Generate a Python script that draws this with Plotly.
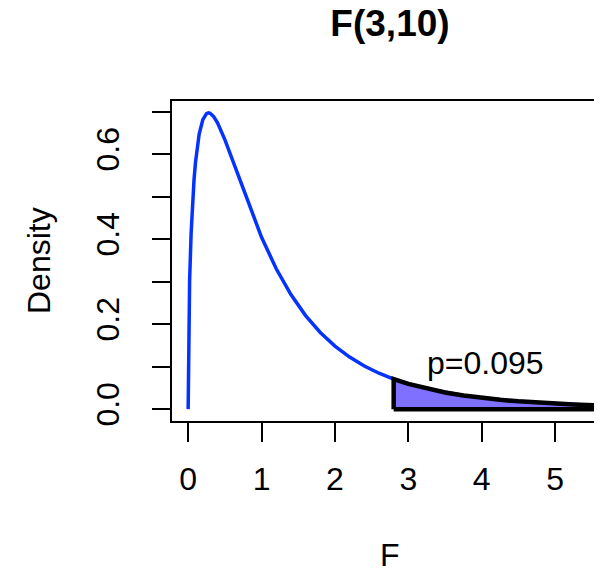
"""F(3,10) density with the upper tail shaded."""

import plotly.graph_objects as go

# density curve
f_x = [0, 0.005, 0.01, 0.02, 0.04, 0.06, 0.08, 0.1, 0.15, 0.2, 0.25, 0.2778,
       0.3, 0.35, 0.4, 0.5, 0.6, 0.7, 0.8, 0.9, 1.0, 1.2, 1.4, 1.6, 1.8,
       2.0, 2.2, 2.4, 2.6, 2.8, 3.0, 3.25, 3.5, 3.75, 4.0, 4.25, 4.5, 4.75,
       5.0, 5.25, 5.5]
f_y = [0, 0.1557, 0.2181, 0.3025, 0.4116, 0.4851, 0.5392, 0.5804, 0.6471,
       0.6810, 0.6950, 0.6967, 0.6957, 0.6876, 0.6734, 0.6340, 0.5875,
       0.5390, 0.4915, 0.4463, 0.4042, 0.3302, 0.2694, 0.2200, 0.1803,
       0.1482, 0.1224, 0.1015, 0.0845, 0.0707, 0.0594, 0.0481, 0.0392,
       0.0321, 0.0265, 0.0219, 0.0183, 0.0153, 0.0129, 0.0109, 0.0093]

f_obs = 2.8
p_label = "p=0.095"
title_text = "F(3,10)"
x_title = "F"
y_title = "Density"

x_ticks = [0, 1, 2, 3, 4, 5]
y_ticks = [0.0, 0.1, 0.2, 0.3, 0.4, 0.5, 0.6, 0.7]
y_labels = ["0.0", "", "0.2", "", "0.4", "", "0.6", ""]

FONT = "Liberation Sans, Arial, Helvetica, sans-serif"

# tail polygon: up the left edge, along the curve, down and back
tail_x = [x for x in f_x if x >= f_obs]
tail_y = [y for x, y in zip(f_x, f_y) if x >= f_obs]
poly_x = [tail_x[0]] + tail_x + [tail_x[-1], tail_x[0]]
poly_y = [0] + tail_y + [0, 0]

fig = go.Figure()
fig.add_trace(go.Scatter(
    x=f_x, y=f_y, mode="lines",
    line=dict(color="#0433FF", width=3.5),
    hoverinfo="skip",
))
fig.add_trace(go.Scatter(
    x=poly_x, y=poly_y, mode="lines", fill="toself",
    fillcolor="#8070FF",
    line=dict(color="black", width=4.5),
    hoverinfo="skip",
))

text_font = dict(family=FONT, size=32, color="black")
fig.add_annotation(x=4.05, y=0.108, text=p_label, showarrow=False,
                   font=text_font)
# axis titles as annotations: plotly clamps axis titles inside the margins
fig.add_annotation(x=0.5, xref="paper", y=0, yref="paper", yshift=-134,
                   yanchor="middle", text=x_title, showarrow=False,
                   font=text_font)
fig.add_annotation(x=0, xref="paper", xshift=-133, xanchor="center",
                   y=0.5, yref="paper", text=y_title, textangle=-90,
                   showarrow=False, font=text_font)

axis_common = dict(
    showgrid=False, zeroline=False, showline=True, automargin=False,
    linecolor="black", linewidth=1.5,
    ticks="outside", tickcolor="black", tickwidth=1.5,
    tickfont=text_font,
)

# R-style 4% padding; the right side of the box falls just off the page
fig.update_xaxes(
    **axis_common,
    range=[-0.22, 5.72], mirror=True,
    tickvals=x_ticks, ticklen=19, ticklabelstandoff=10,
)
fig.update_yaxes(
    **axis_common,
    range=[-0.0279, 0.7247], mirror=True,
    tickvals=y_ticks, ticktext=y_labels, tickangle=-90,
    ticklen=18.5, ticklabelstandoff=20,
)

# page body adds 8px on the left/top, margins allow for it
fig.update_layout(
    width=602, height=568,
    margin=dict(l=164, r=2, t=93, b=155),
    plot_bgcolor="white", paper_bgcolor="white",
    showlegend=False,
    title=dict(text=f"<b>{title_text}</b>", x=382 / 602, xref="container",
               xanchor="center",
               y=1 - 15 / 568, yref="container", yanchor="middle",
               font=dict(family=FONT, size=37, color="black")),
)

fig.write_html("out.html")
